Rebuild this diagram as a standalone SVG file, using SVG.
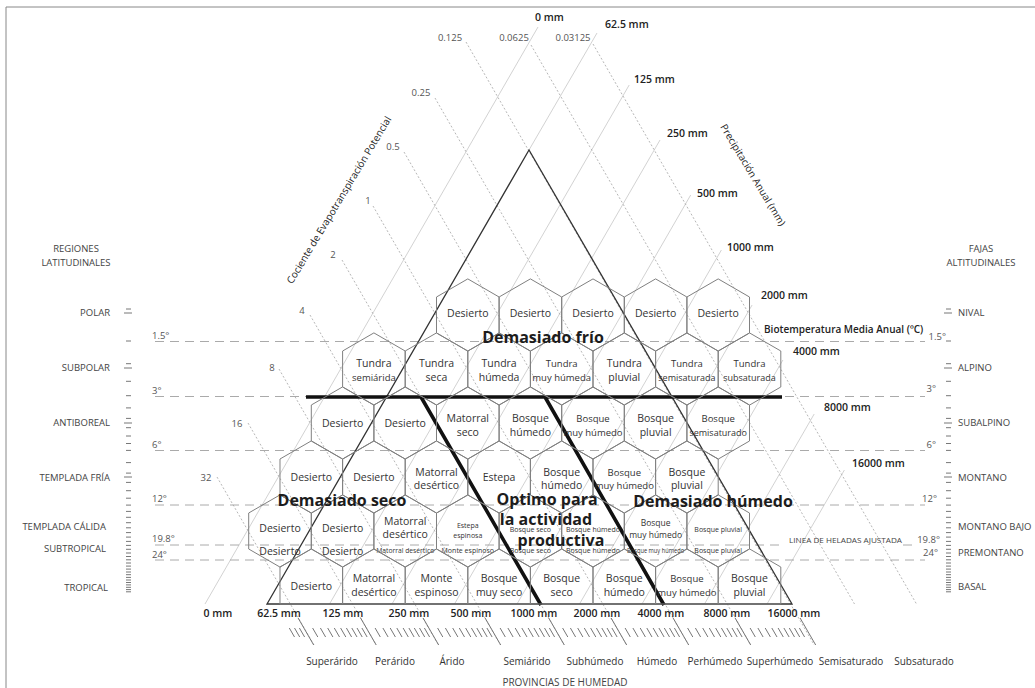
<svg xmlns="http://www.w3.org/2000/svg" xmlns:xlink="http://www.w3.org/1999/xlink" width="1035" height="688" viewBox="0 0 1035 688">
<style>
text{font-family:"Open Sans","Liberation Sans",sans-serif;fill:#333}
.n text{font-size:10.5px;text-anchor:middle}
.n .c9{font-size:9px}
.n .c95{font-size:9.5px}
.n .c85{font-size:8.5px}
.n .s7{font-size:7px}
.hex{fill:none;stroke:#808080;stroke-width:1}
.pl{stroke:#c6c6c6;stroke-width:0.8;fill:none}
.pet{stroke:#a4a4a4;stroke-width:0.8;stroke-dasharray:2 2;fill:none}
.tmp{stroke:#a0a0a0;stroke-width:0.9;stroke-dasharray:9 6;fill:none}
.tri{stroke:#333;stroke-width:1.3;fill:none}
.thick{stroke:#111;stroke-width:3.6;fill:none}
.tick{stroke:#777;stroke-width:1;fill:none}
.big{font-size:16px;font-weight:700;fill:#1c1c1c;text-anchor:middle}
.mm{font-size:10.5px;font-weight:600;fill:#222}
.ax{font-size:10px;fill:#222}
.pet-l{font-size:9.5px;fill:#555;text-anchor:middle}
.deg{font-size:9.5px;fill:#555}
.zone{font-size:9.5px;fill:#444}
.prov{font-size:10px;fill:#333;text-anchor:middle}
</style>
<defs>
<polygon id="hx" class="hex" points="0,-36.1 31.3,-18 31.3,18 0,36.1 -31.3,18 -31.3,-18"/>
<polygon id="hp" class="hex" points="0,-36.1 31.3,-18 31.3,19 -31.3,19 -31.3,-18"/>
<path id="ticks" class="tick" d="M126 309h5M126 341h5M126 363.7h5M126 381.3h5M126 395.7h5M126 407.9h5M126 418.4h5M126 427.7h5M126 436h5M126 443.5h5M126 450.4h5M126 462.6h5M126 473.1h5M126 482.4h5M126 490.7h5M126 498.2h5M126 505.1h5M126 511.4h5M126 517.3h5M126 522.7h5M126 527.8h5M126 532.6h5M126 537.1h5M126 541.4h5M126 545.4h5M126 549.3h5M126 553h5M126 556.5h5M126 559.8h5M126 563h5M126 566.1h5M126 569.1h5M126 572h5M126 574.7h5M126 577.4h5M126 580h5M126 582.5h5M126 584.9h5M126 587.3h5M126 589.6h5M126 591.8h5M124 313h8M124 368h8M124 423h8M124 477h8"/>
</defs>
<rect width="1035" height="688" fill="#fff"/>
<path d="M6 688V7H1035" fill="none" stroke="#888" stroke-width="1"/>

<g id="connectors">
<g id="precipitation-lines">
<path class="pl" d="M205 604L538 27M529 150L597 33M329.5 604L629.2 85M392 604L660 140M454.5 604L690.7 195M517 604L721.4 250M579.5 604L752.1 305M642 604L782.9 360M704.5 604L814.2 414M767 604L844.4 470"/>
</g>
<g id="pet-lines">
<path class="pet" d="M217 477L314 645M248 423L376.2 645M279 369L438.4 645M310 315L500.5 645M342 260L564.3 645M373 206L626.5 645M404 152L688.7 645M435 98L750.8 645M466 42L814.2 645M531 45L854.5 604M593 44L916.5 604"/>
</g>
<g id="temperature-lines">
<path class="tmp" d="M155 341.5H925M155 396.5H925M155 450.5H925M155 505H925M155 545H785M903 545H918M155 560H925"/>
</g>
<g id="triangle">
<path class="tri" d="M529 150L267 604H792Z"/>
</g>
<g id="thick-lines">
<path class="thick" d="M306 397H782M421 397L541 605M545 397L664 605"/>
</g>
<g id="scale-ticks">
<use href="#ticks"/>
<use href="#ticks" x="820"/>
<path class="tick" d="M298.1 618l15.6 27M360.6 618l15.6 27M423.1 618l15.6 27M485.1 618l15.6 27M548.7 618l15.6 27M611.1 618l15.6 27M673.1 618l15.6 27M735.1 618l15.6 27M800.1 618l15.6 27"/>
<path class="tick" stroke-width="0.9" d="M289.3 628l5.2 9M294.5 628l5.2 9M299.4 628l5.2 9M312.6 628l5.2 9M320.4 628l5.2 9M327.7 628l5.2 9M334.3 628l5.2 9M340.6 628l5.2 9M346.4 628l5.2 9M351.8 628l5.2 9M357 628l5.2 9M361.9 628l5.2 9M375.1 628l5.2 9M382.9 628l5.2 9M390.2 628l5.2 9M396.8 628l5.2 9M403.1 628l5.2 9M408.9 628l5.2 9M414.3 628l5.2 9M419.5 628l5.2 9M424.4 628l5.2 9M437.6 628l5.2 9M445.4 628l5.2 9M452.7 628l5.2 9M459.3 628l5.2 9M465.6 628l5.2 9M471.4 628l5.2 9M476.8 628l5.2 9M482 628l5.2 9M486.9 628l5.2 9M500.1 628l5.2 9M507.9 628l5.2 9M515.2 628l5.2 9M521.8 628l5.2 9M528.1 628l5.2 9M533.9 628l5.2 9M539.3 628l5.2 9M544.5 628l5.2 9M549.4 628l5.2 9M562.6 628l5.2 9M570.4 628l5.2 9M577.7 628l5.2 9M584.3 628l5.2 9M590.6 628l5.2 9M596.4 628l5.2 9M601.8 628l5.2 9M607 628l5.2 9M611.9 628l5.2 9M625.1 628l5.2 9M632.9 628l5.2 9M640.2 628l5.2 9M646.8 628l5.2 9M653.1 628l5.2 9M658.9 628l5.2 9M664.3 628l5.2 9M669.5 628l5.2 9M674.4 628l5.2 9M687.6 628l5.2 9M695.4 628l5.2 9M702.7 628l5.2 9M709.3 628l5.2 9M715.6 628l5.2 9M721.4 628l5.2 9M726.8 628l5.2 9M732 628l5.2 9M736.9 628l5.2 9M750.1 628l5.2 9M757.9 628l5.2 9M765.2 628l5.2 9M771.8 628l5.2 9M778.1 628l5.2 9M783.9 628l5.2 9M789.3 628l5.2 9M794.5 628l5.2 9M799.4 628l5.2 9"/>
</g>
</g>

<g id="nodes" class="n">
<g id="r1-1"><use href="#hx" x="467.8" y="315"/><text x="467.8" y="316.5">Desierto</text></g>
<g id="r1-2"><use href="#hx" x="530.4" y="315"/><text x="530.4" y="316.5">Desierto</text></g>
<g id="r1-3"><use href="#hx" x="593" y="315"/><text x="593" y="316.5">Desierto</text></g>
<g id="r1-4"><use href="#hx" x="655.6" y="315"/><text x="655.6" y="316.5">Desierto</text></g>
<g id="r1-5"><use href="#hx" x="718.2" y="315"/><text x="718.2" y="316.5">Desierto</text></g>
<g id="r2-1"><use href="#hx" x="373.9" y="369"/><text x="373.9" y="366.5">Tundra</text><text x="373.9" y="380.5" class="c95">semiárida</text></g>
<g id="r2-2"><use href="#hx" x="436.5" y="369"/><text x="436.5" y="366.5">Tundra</text><text x="436.5" y="380.5">seca</text></g>
<g id="r2-3"><use href="#hx" x="499.1" y="369"/><text x="499.1" y="366.5">Tundra</text><text x="499.1" y="380.5">húmeda</text></g>
<g id="r2-4"><use href="#hx" x="561.7" y="369"/><text x="561.7" y="366.5" class="c95">Tundra</text><text x="561.7" y="380.5" class="c95">muy húmeda</text></g>
<g id="r2-5"><use href="#hx" x="624.3" y="369"/><text x="624.3" y="366.5">Tundra</text><text x="624.3" y="380.5">pluvial</text></g>
<g id="r2-6"><use href="#hx" x="686.9" y="369"/><text x="686.9" y="366.5" class="c95">Tundra</text><text x="686.9" y="380.5" class="c9">semisaturada</text></g>
<g id="r2-7"><use href="#hx" x="749.5" y="369"/><text x="749.5" y="366.5" class="c95">Tundra</text><text x="749.5" y="380.5" class="c9">subsaturada</text></g>
<g id="r3-1"><use href="#hx" x="342.6" y="423"/><text x="342.6" y="426.5">Desierto</text></g>
<g id="r3-2"><use href="#hx" x="405.2" y="423"/><text x="405.2" y="426.5">Desierto</text></g>
<g id="r3-3"><use href="#hx" x="467.8" y="423"/><text x="467.8" y="421.5">Matorral</text><text x="467.8" y="435.5">seco</text></g>
<g id="r3-4"><use href="#hx" x="530.4" y="423"/><text x="530.4" y="421.5">Bosque</text><text x="530.4" y="435.5">húmedo</text></g>
<g id="r3-5"><use href="#hx" x="593" y="423"/><text x="593" y="421.5" class="c95">Bosque</text><text x="593" y="435.5" class="c95">muy húmedo</text></g>
<g id="r3-6"><use href="#hx" x="655.6" y="423"/><text x="655.6" y="421.5">Bosque</text><text x="655.6" y="435.5">pluvial</text></g>
<g id="r3-7"><use href="#hx" x="718.2" y="423"/><text x="718.2" y="421.5" class="c95">Bosque</text><text x="718.2" y="435.5" class="c9">semisaturado</text></g>
<g id="r4-1"><use href="#hx" x="311.3" y="477"/><text x="311.3" y="480.5">Desierto</text></g>
<g id="r4-2"><use href="#hx" x="373.9" y="477"/><text x="373.9" y="480.5">Desierto</text></g>
<g id="r4-3"><use href="#hx" x="436.5" y="477"/><text x="436.5" y="476">Matorral</text><text x="436.5" y="489">desértico</text></g>
<g id="r4-4"><use href="#hx" x="499.1" y="477"/><text x="499.1" y="480.5">Estepa</text></g>
<g id="r4-5"><use href="#hx" x="561.7" y="477"/><text x="561.7" y="476">Bosque</text><text x="561.7" y="489">húmedo</text></g>
<g id="r4-6"><use href="#hx" x="624.3" y="477"/><text x="624.3" y="476" class="c95">Bosque</text><text x="624.3" y="489" class="c95">muy húmedo</text></g>
<g id="r4-7"><use href="#hx" x="686.9" y="477"/><text x="686.9" y="476">Bosque</text><text x="686.9" y="489">pluvial</text></g>
<g id="r5-1"><use href="#hx" x="280" y="531"/><text x="280" y="531.5">Desierto</text><text x="280" y="555">Desierto</text></g>
<g id="r5-2"><use href="#hx" x="342.6" y="531"/><text x="342.6" y="531.5">Desierto</text><text x="342.6" y="555">Desierto</text></g>
<g id="r5-3"><use href="#hx" x="405.2" y="531"/><text x="405.2" y="524.5">Matorral</text><text x="405.2" y="538">desértico</text><text x="405.2" y="552.5" class="s7" textLength="58" lengthAdjust="spacingAndGlyphs">Matorral desértico</text></g>
<g id="r5-4"><use href="#hx" x="467.8" y="531"/><text x="467.8" y="527.5" class="s7">Estepa</text><text x="467.8" y="537.5" class="s7">espinosa</text><text x="467.8" y="553" class="s7">Monte espinoso</text></g>
<g id="r5-5"><use href="#hx" x="530.4" y="531"/><text x="530.4" y="531.5" class="s7">Bosque seco</text><text x="530.4" y="553" class="s7">Bosque seco</text></g>
<g id="r5-6"><use href="#hx" x="593" y="531"/><text x="593" y="531.5" class="s7">Bosque húmedo</text><text x="593" y="553" class="s7">Bosque húmedo</text></g>
<g id="r5-7"><use href="#hx" x="655.6" y="531"/><text x="655.6" y="525.5" class="c85">Bosque</text><text x="655.6" y="537.5" class="c85">muy húmedo</text><text x="655.6" y="553" class="s7" textLength="57" lengthAdjust="spacingAndGlyphs">Bosque muy húmedo</text></g>
<g id="r5-8"><use href="#hx" x="718.2" y="531"/><text x="718.2" y="531.5" class="s7">Bosque pluvial</text><text x="718.2" y="553" class="s7">Bosque pluvial</text></g>
<g id="r6-1"><use href="#hp" x="311.3" y="585"/><text x="311.3" y="589.5">Desierto</text></g>
<g id="r6-2"><use href="#hp" x="373.9" y="585"/><text x="373.9" y="581.5">Matorral</text><text x="373.9" y="595.5">desértico</text></g>
<g id="r6-3"><use href="#hp" x="436.5" y="585"/><text x="436.5" y="581.5">Monte</text><text x="436.5" y="595.5">espinoso</text></g>
<g id="r6-4"><use href="#hp" x="499.1" y="585"/><text x="499.1" y="581.5">Bosque</text><text x="499.1" y="595.5">muy seco</text></g>
<g id="r6-5"><use href="#hp" x="561.7" y="585"/><text x="561.7" y="581.5">Bosque</text><text x="561.7" y="595.5">seco</text></g>
<g id="r6-6"><use href="#hp" x="624.3" y="585"/><text x="624.3" y="581.5">Bosque</text><text x="624.3" y="595.5">húmedo</text></g>
<g id="r6-7"><use href="#hp" x="686.9" y="585"/><text x="686.9" y="581.5" class="c95">Bosque</text><text x="686.9" y="595.5" class="c95">muy húmedo</text></g>
<g id="r6-8"><use href="#hp" x="749.5" y="585"/><text x="749.5" y="581.5">Bosque</text><text x="749.5" y="595.5">pluvial</text></g>
</g>

<g id="region-labels">
<text class="big" x="543" y="343">Demasiado frío</text>
<text class="big" x="342" y="506">Demasiado seco</text>
<text class="big" x="547" y="505">Optimo para</text>
<text class="big" x="546" y="525">la actividad</text>
<text class="big" x="561" y="546">productiva</text>
<text class="big" x="713" y="507">Demasiado húmedo</text>
</g>

<g id="axis-labels">
<text class="ax" transform="translate(339 200) rotate(-59)" text-anchor="middle" dy="3.5">Cociente de Evapotranspiración Potencial</text>
<text class="ax" transform="translate(753 175) rotate(59)" text-anchor="middle" dy="3.5">Precipitación Anual (mm)</text>
<text x="764" y="333" style="font-size:10px;font-weight:600;fill:#222">Biotemperatura Media Anual (ºC)</text>
<text x="789" y="542.5" style="font-size:8px;fill:#444" textLength="113" lengthAdjust="spacingAndGlyphs">LINEA DE HELADAS AJUSTADA</text>

<text class="mm" x="535" y="21">0 mm</text>
<text class="mm" x="605" y="28">62.5 mm</text>
<text class="mm" x="634" y="83">125 mm</text>
<text class="mm" x="667" y="137">250 mm</text>
<text class="mm" x="697" y="197">500 mm</text>
<text class="mm" x="727" y="251">1000 mm</text>
<text class="mm" x="761" y="299">2000 mm</text>
<text class="mm" x="793" y="355">4000 mm</text>
<text class="mm" x="824" y="411">8000 mm</text>
<text class="mm" x="852" y="467">16000 mm</text>

<g text-anchor="middle">
<text class="mm" x="218" y="617">0 mm</text>
<text class="mm" x="279" y="617">62.5 mm</text>
<text class="mm" x="343" y="617">125 mm</text>
<text class="mm" x="409" y="617">250 mm</text>
<text class="mm" x="471" y="617">500 mm</text>
<text class="mm" x="534" y="617">1000 mm</text>
<text class="mm" x="597" y="617">2000 mm</text>
<text class="mm" x="661" y="617">4000 mm</text>
<text class="mm" x="727" y="617">8000 mm</text>
<text class="mm" x="794" y="617">16000 mm</text>
</g>

<text class="pet-l" x="450" y="41">0.125</text>
<text class="pet-l" x="514" y="41">0.0625</text>
<text class="pet-l" x="573" y="41">0.03125</text>
<text class="pet-l" x="421" y="96">0.25</text>
<text class="pet-l" x="393" y="150">0.5</text>
<text class="pet-l" x="368" y="204">1</text>
<text class="pet-l" x="333" y="258">2</text>
<text class="pet-l" x="302" y="314">4</text>
<text class="pet-l" x="272" y="371">8</text>
<text class="pet-l" x="237" y="427">16</text>
<text class="pet-l" x="206" y="481">32</text>

<text class="deg" x="152" y="339">1.5°</text>
<text class="deg" x="152" y="394">3°</text>
<text class="deg" x="152" y="448">6°</text>
<text class="deg" x="152" y="502">12°</text>
<text class="deg" x="152" y="542">19.8°</text>
<text class="deg" x="152" y="558">24°</text>
<g text-anchor="end">
<text class="deg" x="946" y="340">1.5°</text>
<text class="deg" x="936" y="392">3°</text>
<text class="deg" x="936" y="448">6°</text>
<text class="deg" x="937" y="502">12°</text>
<text class="deg" x="940" y="543">19.8°</text>
<text class="deg" x="938" y="556">24°</text>
</g>

<g text-anchor="middle">
<text class="zone" x="76" y="252">REGIONES</text>
<text class="zone" x="76" y="266">LATITUDINALES</text>
<text class="zone" x="981" y="252">FAJAS</text>
<text class="zone" x="981" y="266">ALTITUDINALES</text>
</g>
<g text-anchor="end">
<text class="zone" x="110" y="316">POLAR</text>
<text class="zone" x="110" y="371">SUBPOLAR</text>
<text class="zone" x="110" y="426">ANTIBOREAL</text>
<text class="zone" x="110" y="481">TEMPLADA FRÍA</text>
<text class="zone" x="106" y="530">TEMPLADA CÁLIDA</text>
<text class="zone" x="106" y="552">SUBTROPICAL</text>
<text class="zone" x="108" y="591">TROPICAL</text>
</g>
<text class="zone" x="958" y="316">NIVAL</text>
<text class="zone" x="958" y="371">ALPINO</text>
<text class="zone" x="958" y="426">SUBALPINO</text>
<text class="zone" x="958" y="481">MONTANO</text>
<text class="zone" x="958" y="530">MONTANO BAJO</text>
<text class="zone" x="958" y="556">PREMONTANO</text>
<text class="zone" x="958" y="590">BASAL</text>

<text class="prov" x="332" y="665">Superárido</text>
<text class="prov" x="395" y="665">Perárido</text>
<text class="prov" x="452" y="665">Árido</text>
<text class="prov" x="527" y="665">Semiárido</text>
<text class="prov" x="595" y="665">Subhúmedo</text>
<text class="prov" x="657" y="665">Húmedo</text>
<text class="prov" x="715" y="665">Perhúmedo</text>
<text class="prov" x="780" y="665">Superhúmedo</text>
<text class="prov" x="851" y="665">Semisaturado</text>
<text class="prov" x="924" y="665">Subsaturado</text>
<text x="565" y="686" text-anchor="middle" style="font-size:10px;fill:#444">PROVINCIAS DE HUMEDAD</text>
</g>
</svg>
